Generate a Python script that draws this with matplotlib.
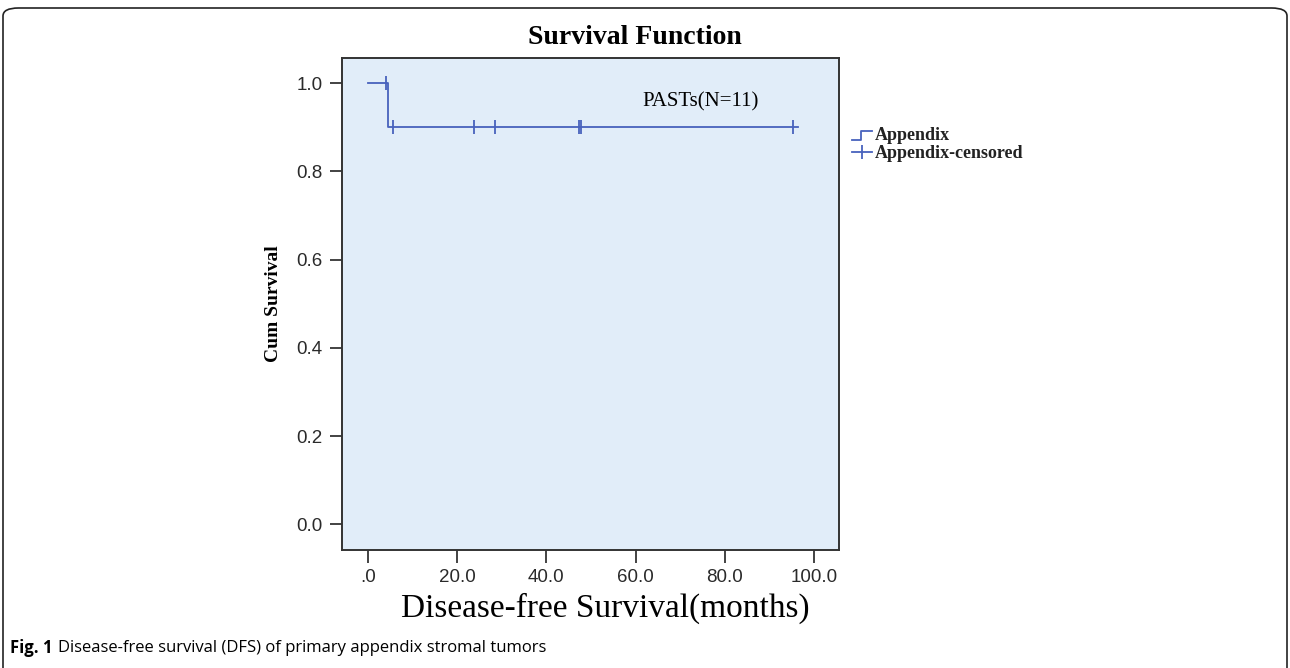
import numpy as np
import matplotlib.pyplot as plt
from matplotlib.lines import Line2D
from matplotlib.patches import FancyBboxPatch

# Kaplan-Meier data (months)
step_times = [0.0, 4.6, 4.6, 96.5]
step_surv = [1.0, 1.0, 0.9, 0.9]
censor_times = [4.0, 5.7, 23.8, 28.6, 47.3, 47.8, 95.3]
censor_surv = [1.0, 0.9, 0.9, 0.9, 0.9, 0.9, 0.9]

x_ticks = [0, 20, 40, 60, 80, 100]
x_labels = [".0", "20.0", "40.0", "60.0", "80.0", "100.0"]
y_ticks = [0.0, 0.2, 0.4, 0.6, 0.8, 1.0]
y_labels = ["0.0", "0.2", "0.4", "0.6", "0.8", "1.0"]

line_col = "#4862bd"
serif = ["Liberation Serif", "DejaVu Serif"]
sans = ["Liberation Sans", "DejaVu Sans"]

fig = plt.figure(figsize=(12.9, 6.68), dpi=100)
W, H = 1290, 668

# outer rounded frame
fig.add_artist(FancyBboxPatch((3 / W, -0.05), 1284 / W, 1 - 8 / H + 0.05,
                              boxstyle="round,pad=0,rounding_size=0.012",
                              transform=fig.transFigure, fill=False,
                              edgecolor="#222222", lw=1.2))

ax = fig.add_axes([342 / W, 1 - 550 / H, (839 - 342) / W, (550 - 58) / H])
ax.set_facecolor("#e1edf9")
ax.plot(step_times, step_surv, color=line_col, lw=1.3)
ax.plot(censor_times, censor_surv, ls="none", marker="|", ms=10, mew=1.3,
        color=line_col)

ax.set_xlim(-5.8, 105.6)
ax.set_ylim(-0.058, 1.057)
ax.set_xticks(x_ticks)
ax.set_xticklabels(x_labels, fontfamily=sans, fontsize=13.5, color="#2a2a2a")
ax.set_yticks(y_ticks)
ax.set_yticklabels(y_labels, fontfamily=sans, fontsize=13.5, color="#2a2a2a")
ax.tick_params(length=9, width=1.2, color="#222222", pad=5)
for s in ax.spines.values():
    s.set_linewidth(1.4)
    s.set_color("#333333")

fig.text(635 / W, 1 - 38 / H, "Survival Function", fontfamily=serif,
         fontweight="bold", fontsize=20, ha="center", va="center")
ax.set_xlabel("Disease-free Survival(months)", fontfamily=serif, fontsize=24)
ax.xaxis.set_label_coords(0.53, -0.087)
ax.set_ylabel("Cum Survival", fontfamily=serif, fontweight="bold",
              fontsize=14, labelpad=10)
ax.text(642 / W, 1 - 102 / H, "PASTs(N=11)", transform=fig.transFigure,
        fontfamily=serif, fontsize=15, va="center")

# legend outside on the right
fig.add_artist(Line2D([852 / W, 861 / W, 861 / W, 872 / W],
                      [1 - 140 / H, 1 - 140 / H, 1 - 131 / H, 1 - 131 / H],
                      color=line_col, lw=1.3, transform=fig.transFigure))
fig.add_artist(Line2D([852 / W, 872 / W], [1 - 152 / H, 1 - 152 / H],
                      color=line_col, lw=1.3, transform=fig.transFigure))
fig.add_artist(Line2D([862 / W], [1 - 152 / H], marker="|", ms=10, mew=1.3,
                      color=line_col, transform=fig.transFigure))
fig.text(875 / W, 1 - 135 / H, "Appendix", fontfamily=serif, fontsize=13,
         va="center", fontweight="bold", color="#222222")
fig.text(875 / W, 1 - 153 / H, "Appendix-censored", fontfamily=serif,
         fontsize=13, va="center", fontweight="bold", color="#222222")

# caption
fig.text(10 / W, 1 - 648 / H, "Fig. 1", fontfamily="Open Sans",
         fontweight="bold", fontsize=12, va="center")
fig.text(58 / W, 1 - 648 / H,
         "Disease-free survival (DFS) of primary appendix stromal tumors",
         fontfamily="Open Sans", fontsize=12, va="center")

fig.savefig("out.png", dpi=100)
